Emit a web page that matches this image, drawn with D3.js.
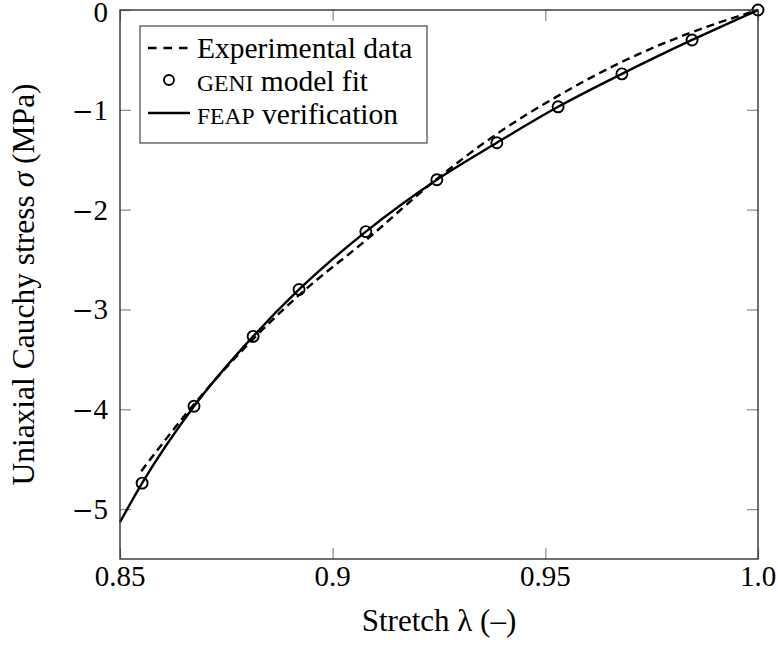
<!DOCTYPE html>
<html><head><meta charset="utf-8">
<script src="https://cdn.jsdelivr.net/npm/d3@7"></script>
<style>body{margin:0;background:#fff}svg{display:block}text{font-family:"Liberation Serif","Times New Roman",serif;fill:#000}</style>
</head><body>
<svg id="c" width="778" height="646"></svg>
<script>
const xTicks = [0.85, 0.9, 0.95, 1.0];
const xTickLabels = ["0.85", "0.9", "0.95", "1.0"];
const yTicks = [0, -1, -2, -3, -4, -5];
const yTickLabels = ["0", "1", "2", "3", "4", "5"];
const expStretch = [0.855, 0.867, 0.881, 0.892, 0.908, 0.924, 0.939, 0.953, 0.968, 0.984, 1.0];
const expStress  = [-4.62, -3.97, -3.31, -2.86, -2.30, -1.71, -1.23, -0.86, -0.52, -0.23, 0];
const fitStretch = [0.8552, 0.8674, 0.8813, 0.8921, 0.9078, 0.9245, 0.9386, 0.9530, 0.9680, 0.9845, 1.0];
const fitStress  = [-4.74, -3.97, -3.27, -2.80, -2.22, -1.70, -1.33, -0.97, -0.64, -0.30, 0];
const feapStretch = [0.85, 0.8552, 0.8674, 0.8813, 0.8921, 0.9078, 0.9245, 0.9386, 0.9530, 0.9680, 0.9845, 1.0];
const feapStress  = [-5.13, -4.74, -3.97, -3.27, -2.80, -2.22, -1.70, -1.33, -0.97, -0.64, -0.30, 0];
const legendLabels = ["Experimental data", "GENI model fit", "FEAP verification"];

const svg = d3.select("#c");
const L = 120, R = 758, T = 10, B = 559;
const x = d3.scaleLinear().domain([0.85, 1.0]).range([L, R]);
const y = d3.scaleLinear().domain([-5.5, 0]).range([B, T]);
const FS = 29;
const LFS = 29.5;

// ticks (inward, gray) on all four sides
const tickG = svg.append("g");
const tl = 11;
const xb = d3.axisBottom(x).tickValues(xTicks).tickSize(tl).tickFormat("");
tickG.append("g").attr("transform", `translate(0,${B - tl})`).call(xb);
tickG.append("g").attr("transform", `translate(0,${T})`).call(xb);
const yl = d3.axisLeft(y).tickValues(yTicks).tickSize(tl).tickFormat("");
tickG.append("g").attr("transform", `translate(${L + tl},0)`).call(yl);
tickG.append("g").attr("transform", `translate(${R},0)`).call(yl);
tickG.selectAll(".domain").remove();
tickG.selectAll(".tick line").attr("stroke", "#8a8a8a").attr("stroke-width", 1.2);

// tick labels
svg.append("g").selectAll("text").data(xTicks).join("text")
  .attr("x", d => x(d)).attr("y", 586).attr("text-anchor", "middle")
  .style("font-size", FS + "px").text((d, i) => xTickLabels[i]);
const ytl = svg.append("g").selectAll("text").data(yTicks).join("text")
  .attr("x", 108).attr("y", d => Math.max(y(d) + 10, 21.5)).attr("text-anchor", "end")
  .style("font-size", FS + "px");
ytl.filter(d => d < 0).append("tspan").style("font-family", "'DejaVu Serif',serif").style("font-size", "26px").text("\u2212");
ytl.append("tspan").text((d, i) => yTickLabels[i]);

// axis titles
const xt = svg.append("text").attr("x", (L + R) / 2).attr("y", 631).attr("text-anchor", "middle").style("font-size", "31px");
xt.append("tspan").text("Stretch ");
xt.append("tspan").text("\u03bb");
xt.append("tspan").text(" (\u2013)");
const yt = svg.append("text").attr("transform", `translate(34,${(T + B) / 2}) rotate(-90)`).attr("text-anchor", "middle").style("font-size", "31.5px");
yt.append("tspan").text("Uniaxial Cauchy stress ");
yt.append("tspan").style("font-style", "italic").text("\u03c3");
yt.append("tspan").text(" (MPa)");

const plot = svg.append("g");
const line = d3.line().curve(d3.curveMonotoneX).x(d => x(d[0])).y(d => y(d[1]));
const expData = expStretch.map((v, i) => [v, expStress[i]]);
const fitData = fitStretch.map((v, i) => [v, fitStress[i]]);
const feapData = feapStretch.map((v, i) => [v, feapStress[i]]);

plot.append("path").datum(expData).attr("d", line).attr("fill", "none")
  .attr("stroke", "#000").attr("stroke-width", 2.4).attr("stroke-dasharray", "8,5");
plot.append("path").datum(feapData).attr("d", line).attr("fill", "none")
  .attr("stroke", "#000").attr("stroke-width", 2.4);
plot.append("g").selectAll("circle").data(fitData).join("circle")
  .attr("cx", d => x(d[0])).attr("cy", d => y(d[1])).attr("r", 5.5)
  .attr("fill", "none").attr("stroke", "#000").attr("stroke-width", 1.9);

// frame
svg.append("rect").attr("x", L).attr("y", T).attr("width", R - L).attr("height", B - T)
  .attr("fill", "none").attr("stroke", "#333").attr("stroke-width", 1.4);

// legend
const lg = svg.append("g");
lg.append("rect").attr("x", 140).attr("y", 26).attr("width", 287).attr("height", 117)
  .attr("fill", "#fff").attr("stroke", "#444").attr("stroke-width", 1.2);
const rows = [48, 80, 113];
lg.append("line").attr("x1", 148).attr("x2", 190).attr("y1", rows[0]).attr("y2", rows[0])
  .attr("stroke", "#000").attr("stroke-width", 2.4).attr("stroke-dasharray", "8.5,7");
lg.append("circle").attr("cx", 169).attr("cy", rows[1]).attr("r", 5).attr("fill", "none")
  .attr("stroke", "#000").attr("stroke-width", 1.9);
lg.append("line").attr("x1", 148).attr("x2", 190).attr("y1", rows[2]).attr("y2", rows[2])
  .attr("stroke", "#000").attr("stroke-width", 2.4);
lg.append("text").attr("x", 197).attr("y", 58).style("font-size", LFS + "px").text(legendLabels[0]);
function smallCaps(el, word, rest) {
  el.append("tspan").style("font-size", (LFS * 0.8) + "px").text(word);
  el.append("tspan").text(rest);
}
const t1 = lg.append("text").attr("x", 197).attr("y", 91).style("font-size", LFS + "px");
smallCaps(t1, legendLabels[1].split(" ")[0], " " + legendLabels[1].split(" ").slice(1).join(" "));
const t2 = lg.append("text").attr("x", 197).attr("y", 124).style("font-size", LFS + "px");
smallCaps(t2, legendLabels[2].split(" ")[0], " " + legendLabels[2].split(" ").slice(1).join(" "));
</script>
</body></html>
